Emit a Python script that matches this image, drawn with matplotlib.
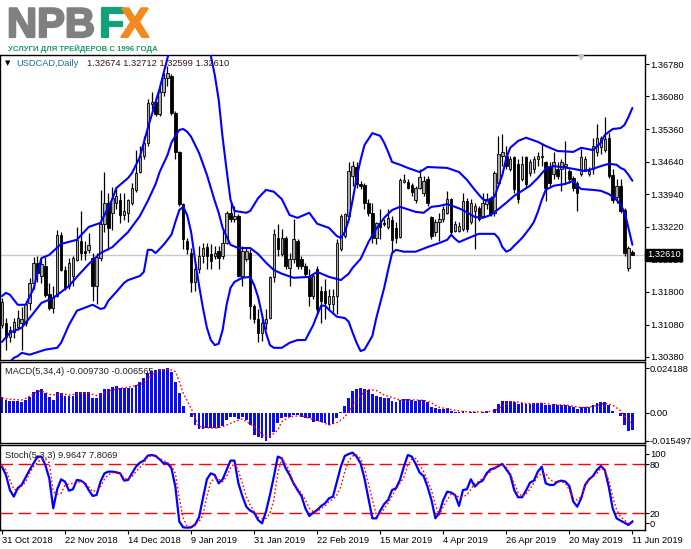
import matplotlib
matplotlib.use('Agg')
import matplotlib.pyplot as plt
import matplotlib.patheffects as pe
import numpy as np
from matplotlib.transforms import blended_transform_factory

# ---------------- data ----------------
symbol = 'USDCAD,Daily'
header_values = '1.32674 1.32712 1.32599 1.32610'
last_price = 1.32610

date_labels = ['31 Oct 2018', '22 Nov 2018', '14 Dec 2018', '9 Jan 2019', '31 Jan 2019',
               '22 Feb 2019', '15 Mar 2019', '4 Apr 2019', '26 Apr 2019', '20 May 2019', '11 Jun 2019']
date_label_bars = [0, 16, 32, 48, 64, 80, 96, 112, 128, 144, 160]

open_ = [1.3108, 1.3113, 1.3082, 1.3093, 1.3104, 1.3113, 1.3113, 1.3155, 1.3199, 1.3243,
         1.3215, 1.3237, 1.3175, 1.3145, 1.3171, 1.3305, 1.3228, 1.3193, 1.3215, 1.3250,
         1.3292, 1.3270, 1.3272, 1.3255, 1.3193, 1.3255, 1.3328, 1.3374, 1.3352, 1.3375,
         1.3381, 1.3348, 1.3352, 1.3374, 1.3403, 1.3443, 1.3476, 1.3505, 1.3590, 1.3594,
         1.3568, 1.3616, 1.3648, 1.3652, 1.3570, 1.3485, 1.3372, 1.3292, 1.3266, 1.3201,
         1.3230, 1.3259, 1.3279, 1.3262, 1.3259, 1.3270, 1.3259, 1.3288, 1.3353, 1.3339,
         1.3346, 1.3215, 1.3252, 1.3266, 1.3150, 1.3120, 1.3091, 1.3113, 1.3124, 1.3212,
         1.3299, 1.3262, 1.3299, 1.3233, 1.3252, 1.3292, 1.3252, 1.3237, 1.3212, 1.3171,
         1.3230, 1.3182, 1.3182, 1.3153, 1.3153, 1.3171, 1.3273, 1.3303, 1.3346, 1.3434,
         1.3452, 1.3416, 1.3414, 1.3374, 1.3352, 1.3298, 1.3330, 1.3330, 1.3323, 1.3337,
         1.3319, 1.3301, 1.3421, 1.3421, 1.3414, 1.3381, 1.3407, 1.3397, 1.3426, 1.3343,
         1.3310, 1.3332, 1.3339, 1.3353, 1.3383, 1.3314, 1.3314, 1.3317, 1.3379, 1.3332,
         1.3357, 1.3364, 1.3346, 1.3372, 1.3386, 1.3353, 1.3419, 1.3477, 1.3477, 1.3448,
         1.3474, 1.3459, 1.3426, 1.3474, 1.3441, 1.3448, 1.3470, 1.3474, 1.3463, 1.3455,
         1.3437, 1.3448, 1.3448, 1.3455, 1.3445, 1.3430, 1.3419, 1.3437, 1.3448, 1.3437,
         1.3448, 1.3485, 1.3496, 1.3490, 1.3517, 1.3436, 1.3388, 1.3412, 1.3359, 1.3233,
         1.32674]
high = [1.3166, 1.3124, 1.3106, 1.3123, 1.3141, 1.3148, 1.3160, 1.3210, 1.3257, 1.3259,
        1.3255, 1.3257, 1.3199, 1.3193, 1.3316, 1.3312, 1.3236, 1.3255, 1.3259, 1.3323,
        1.3357, 1.3292, 1.3308, 1.3265, 1.3265, 1.3403, 1.3443, 1.3396, 1.3410, 1.3404,
        1.3396, 1.3396, 1.3383, 1.3418, 1.3490, 1.3498, 1.3521, 1.3601, 1.3616, 1.3605,
        1.3630, 1.3659, 1.3674, 1.3656, 1.3576, 1.3488, 1.3375, 1.3299, 1.3277, 1.3244,
        1.3281, 1.3288, 1.3288, 1.3284, 1.3281, 1.3281, 1.3317, 1.3357, 1.3375, 1.3368,
        1.3350, 1.3281, 1.3277, 1.3273, 1.3153, 1.3142, 1.3128, 1.3142, 1.3215, 1.3317,
        1.3328, 1.3317, 1.3303, 1.3266, 1.3339, 1.3296, 1.3259, 1.3244, 1.3230, 1.3222,
        1.3237, 1.3193, 1.3208, 1.3186, 1.3186, 1.3296, 1.3350, 1.3353, 1.3463, 1.3466,
        1.3463, 1.3423, 1.3419, 1.3383, 1.3375, 1.3332, 1.3361, 1.3339, 1.3361, 1.3346,
        1.3332, 1.3430, 1.3437, 1.3426, 1.3419, 1.3412, 1.3448, 1.3434, 1.3434, 1.3346,
        1.3339, 1.3353, 1.3368, 1.3401, 1.3386, 1.3335, 1.3332, 1.3397, 1.3386, 1.3383,
        1.3375, 1.3368, 1.3397, 1.3397, 1.3390, 1.3445, 1.3521, 1.3525, 1.3499, 1.3477,
        1.3477, 1.3470, 1.3477, 1.3477, 1.3470, 1.3477, 1.3485, 1.3503, 1.3466, 1.3463,
        1.3485, 1.3463, 1.3470, 1.3510, 1.3448, 1.3434, 1.3423, 1.3492, 1.3477, 1.3452,
        1.3517, 1.3547, 1.3521, 1.3562, 1.3528, 1.3448, 1.3426, 1.3426, 1.3364, 1.3281,
        1.32712]
low = [1.3102, 1.3054, 1.3070, 1.3079, 1.3097, 1.3054, 1.3106, 1.3141, 1.3186, 1.3201,
       1.3199, 1.3170, 1.3141, 1.3135, 1.3170, 1.3225, 1.3185, 1.3186, 1.3193, 1.3247,
       1.3250, 1.3250, 1.3265, 1.3160, 1.3153, 1.3248, 1.3310, 1.3272, 1.3316, 1.3361,
       1.3330, 1.3337, 1.3332, 1.3370, 1.3399, 1.3439, 1.3470, 1.3498, 1.3579, 1.3565,
       1.3565, 1.3608, 1.3630, 1.3566, 1.3470, 1.3368, 1.3273, 1.3262, 1.3179, 1.3182,
       1.3222, 1.3244, 1.3230, 1.3230, 1.3252, 1.3230, 1.3252, 1.3284, 1.3332, 1.3332,
       1.3212, 1.3193, 1.3248, 1.3120, 1.3113, 1.3070, 1.3073, 1.3099, 1.3120, 1.3201,
       1.3259, 1.3259, 1.3230, 1.3193, 1.3244, 1.3230, 1.3230, 1.3212, 1.3150, 1.3164,
       1.3131, 1.3113, 1.3120, 1.3142, 1.3131, 1.3131, 1.3270, 1.3299, 1.3343, 1.3412,
       1.3408, 1.3404, 1.3361, 1.3346, 1.3288, 1.3284, 1.3296, 1.3324, 1.3317, 1.3266,
       1.3288, 1.3299, 1.3419, 1.3404, 1.3390, 1.3375, 1.3404, 1.3390, 1.3368, 1.3296,
       1.3303, 1.3292, 1.3332, 1.3350, 1.3306, 1.3310, 1.3310, 1.3314, 1.3310, 1.3328,
       1.3273, 1.3335, 1.3343, 1.3361, 1.3346, 1.3346, 1.3416, 1.3455, 1.3448, 1.3445,
       1.3397, 1.3375, 1.3423, 1.3408, 1.3434, 1.3441, 1.3455, 1.3455, 1.3379, 1.3412,
       1.3426, 1.3426, 1.3401, 1.3419, 1.3419, 1.3401, 1.3357, 1.3434, 1.3445, 1.3434,
       1.3437, 1.3477, 1.3481, 1.3485, 1.3430, 1.3375, 1.3375, 1.3353, 1.3259, 1.3226,
       1.32599]
close_ = [1.3159, 1.3082, 1.3097, 1.3115, 1.3123, 1.3120, 1.3153, 1.3199, 1.3243, 1.3222,
          1.3241, 1.3174, 1.3145, 1.3168, 1.3305, 1.3228, 1.3188, 1.3244, 1.3255, 1.3294,
          1.3266, 1.3266, 1.3283, 1.3193, 1.3257, 1.3328, 1.3375, 1.3319, 1.3385, 1.3390,
          1.3348, 1.3356, 1.3381, 1.3407, 1.3439, 1.3476, 1.3505, 1.3592, 1.3594, 1.3568,
          1.3616, 1.3648, 1.3658, 1.3570, 1.3485, 1.3372, 1.3296, 1.3273, 1.3201, 1.3230,
          1.3259, 1.3277, 1.3259, 1.3248, 1.3266, 1.3255, 1.3288, 1.3353, 1.3339, 1.3345,
          1.3215, 1.3270, 1.3270, 1.3150, 1.3120, 1.3091, 1.3113, 1.3120, 1.3212, 1.3306,
          1.3273, 1.3299, 1.3237, 1.3252, 1.3296, 1.3237, 1.3237, 1.3219, 1.3171, 1.3215,
          1.3142, 1.3160, 1.3157, 1.3171, 1.3171, 1.3288, 1.3346, 1.3350, 1.3445, 1.3455,
          1.3416, 1.3412, 1.3374, 1.3352, 1.3298, 1.3330, 1.3323, 1.3329, 1.3341, 1.3294,
          1.3298, 1.3425, 1.3425, 1.3407, 1.3399, 1.3407, 1.3432, 1.3423, 1.3375, 1.3303,
          1.3332, 1.3340, 1.3361, 1.3383, 1.3310, 1.3328, 1.3324, 1.3379, 1.3317, 1.3375,
          1.3368, 1.3339, 1.3375, 1.3383, 1.3350, 1.3441, 1.3481, 1.3485, 1.3455, 1.3470,
          1.3404, 1.3383, 1.3459, 1.3416, 1.3463, 1.3470, 1.3477, 1.3477, 1.3408, 1.3419,
          1.3463, 1.3434, 1.3463, 1.3459, 1.3426, 1.3408, 1.3397, 1.3474, 1.3470, 1.3445,
          1.3499, 1.3517, 1.3517, 1.3515, 1.3434, 1.3381, 1.3412, 1.3357, 1.3265, 1.3276,
          1.32610]

# Bollinger Bands (20, 2): (bar index, price)
bb_upper_bars = [0, 1, 2, 4, 6, 8, 10, 12, 15, 19, 22, 25, 28, 29, 32, 33, 35, 37, 40, 42,
                 44, 47, 50, 52, 53, 54, 55, 56, 57, 58, 59, 62, 63, 65, 67, 69, 71, 73, 75, 78,
                 80, 83, 85, 86, 87, 88, 89, 90, 91, 92, 94, 96, 97, 98, 99, 101, 103, 106, 108, 113,
                 116, 118, 120, 122, 123, 125, 126, 127, 128, 129, 131, 133, 136, 138, 141, 145, 147, 150, 152, 153,
                 155, 157, 158, 159, 160]
bb_upper = [1.3171, 1.3178, 1.3174, 1.3152, 1.3152, 1.3187, 1.3254, 1.3261, 1.3285, 1.3294,
            1.3322, 1.3331, 1.3383, 1.3407, 1.3429, 1.3440, 1.3475, 1.3538, 1.3624, 1.3691,
            1.3752, 1.3796, 1.3785, 1.3731, 1.3696, 1.3654, 1.3600, 1.3517, 1.3447, 1.3381,
            1.3357, 1.3353, 1.3357, 1.3385, 1.3403, 1.3399, 1.3383, 1.3348, 1.3342, 1.3353,
            1.3329, 1.3320, 1.3302, 1.3298, 1.3311, 1.3337, 1.3381, 1.3429, 1.3468, 1.3501,
            1.3527, 1.3521, 1.3506, 1.3486, 1.3464, 1.3458, 1.3451, 1.3442, 1.3453, 1.3451,
            1.3442, 1.3425, 1.3403, 1.3383, 1.3379, 1.3388, 1.3412, 1.3436, 1.3473, 1.3495,
            1.3510, 1.3517, 1.3508, 1.3499, 1.3488, 1.3486, 1.3495, 1.3490, 1.3506, 1.3523,
            1.3536, 1.3538, 1.3545, 1.3562, 1.3582]
bb_middle_bars = [0, 2, 5, 8, 10, 13, 17, 19, 22, 25, 28, 32, 35, 37, 39, 40, 42, 43, 44, 45,
                  46, 47, 48, 50, 52, 54, 55, 56, 58, 60, 63, 65, 67, 69, 71, 74, 78, 80, 83, 86,
                  88, 89, 91, 93, 95, 97, 99, 101, 105, 107, 109, 111, 113, 115, 117, 120, 122, 124, 126, 128,
                  130, 132, 134, 136, 138, 140, 142, 145, 148, 150, 152, 154, 156, 157, 158, 159, 160]
bb_middle = [1.3071, 1.3091, 1.3102, 1.3134, 1.3156, 1.3167, 1.3193, 1.3213, 1.3241, 1.3265,
             1.3278, 1.3311, 1.3346, 1.3379, 1.3416, 1.3442, 1.3479, 1.3506, 1.3521, 1.3534,
             1.3536, 1.3530, 1.3519, 1.3484, 1.3436, 1.3379, 1.3353, 1.3320, 1.3283, 1.3276,
             1.3276, 1.3263, 1.3244, 1.3228, 1.3220, 1.3211, 1.3213, 1.3224, 1.3213, 1.3206,
             1.3220, 1.3233, 1.3252, 1.3289, 1.3318, 1.3342, 1.3359, 1.3366, 1.3355, 1.3353,
             1.3366, 1.3368, 1.3372, 1.3366, 1.3359, 1.3344, 1.3342, 1.3348, 1.3361, 1.3375,
             1.3390, 1.3401, 1.3412, 1.3429, 1.3449, 1.3455, 1.3453, 1.3449, 1.3444, 1.3449,
             1.3455, 1.3460, 1.3458, 1.3451, 1.3447, 1.3436, 1.3423]
bb_lower_bars = [0, 2, 3, 4, 5, 7, 11, 14, 15, 17, 19, 23, 25, 26, 27, 29, 31, 32, 35, 36,
                 37, 38, 39, 41, 43, 44, 45, 46, 47, 48, 49, 50, 51, 52, 53, 54, 55, 56, 57, 58,
                 59, 61, 63, 64, 65, 66, 67, 68, 69, 71, 73, 75, 77, 79, 80, 81, 82, 83, 85, 87,
                 88, 89, 90, 91, 92, 93, 94, 95, 96, 97, 98, 99, 100, 102, 105, 108, 111, 113, 114, 115,
                 116, 119, 121, 125, 126, 127, 128, 129, 130, 132, 134, 135, 136, 137, 138, 140, 143, 145, 146, 147,
                 150, 152, 154, 155, 156, 157, 158, 159, 160]
bb_lower = [1.3019, 1.3027, 1.3036, 1.3040, 1.3047, 1.3043, 1.3054, 1.3058, 1.3069, 1.3108,
            1.3139, 1.3152, 1.3143, 1.3145, 1.3161, 1.3180, 1.3200, 1.3206, 1.3215, 1.3224,
            1.3272, 1.3272, 1.3265, 1.3283, 1.3305, 1.3333, 1.3359, 1.3366, 1.3348, 1.3311,
            1.3250, 1.3195, 1.3145, 1.3102, 1.3075, 1.3064, 1.3067, 1.3097, 1.3152, 1.3189,
            1.3202, 1.3211, 1.3213, 1.3195, 1.3169, 1.3130, 1.3091, 1.3064, 1.3058, 1.3058,
            1.3069, 1.3075, 1.3075, 1.3108, 1.3130, 1.3150, 1.3150, 1.3141, 1.3126, 1.3123,
            1.3115, 1.3091, 1.3069, 1.3051, 1.3054, 1.3069, 1.3084, 1.3123, 1.3156, 1.3189,
            1.3228, 1.3265, 1.3272, 1.3268, 1.3268, 1.3278, 1.3287, 1.3294, 1.3305, 1.3296,
            1.3289, 1.3300, 1.3307, 1.3307, 1.3298, 1.3278, 1.3268, 1.3272, 1.3281, 1.3298,
            1.3320, 1.3333, 1.3355, 1.3381, 1.3403, 1.3412, 1.3416, 1.3423, 1.3412, 1.3405,
            1.3403, 1.3401, 1.3394, 1.3388, 1.3381, 1.3370, 1.3355, 1.3320, 1.3283]

# MACD (5,34,4)
macd_hist = [0.0086, 0.0068, 0.0063, 0.0063, 0.0063, 0.0059, 0.0068, 0.0086, 0.0110, 0.0123,
             0.0128, 0.0105, 0.0086, 0.0068, 0.0110, 0.0105, 0.0092, 0.0092, 0.0092, 0.0110,
             0.0114, 0.0110, 0.0114, 0.0081, 0.0081, 0.0105, 0.0128, 0.0128, 0.0137, 0.0144,
             0.0132, 0.0135, 0.0132, 0.0132, 0.0150, 0.0168, 0.0186, 0.0214, 0.0226, 0.0232,
             0.0237, 0.0237, 0.024188, 0.0223, 0.0168, 0.0105, 0.0037, -0.0003, -0.0023, -0.0068,
             -0.0090, -0.0090, -0.0086, -0.0086, -0.0086, -0.0083, -0.0072, -0.0041, -0.0023, -0.0023,
             -0.0035, -0.0023, -0.0041, -0.0068, -0.0123, -0.0132, -0.0137, -0.015497, -0.0141, -0.0105,
             -0.0059, -0.0032, -0.0023, -0.0023, -0.0014, -0.0014, -0.0023, -0.0028, -0.0032, -0.0050,
             -0.0046, -0.0050, -0.0059, -0.0068, -0.0060, -0.0030, 0.0005, 0.0035, 0.0080, 0.0115,
             0.0130, 0.0135, 0.0130, 0.0120, 0.0100, 0.0090, 0.0085, 0.0080, 0.0080, 0.0065,
             0.0055, 0.0070, 0.0075, 0.0072, 0.0068, 0.0065, 0.0068, 0.0068, 0.0055, 0.0030,
             0.0022, 0.0018, 0.0020, 0.0025, 0.0010, 0.0005, 0.0002, 0.0010, 0.0000, 0.0005,
             0.0005, 0.0000, 0.0005, 0.0008, 0.0000, 0.0020, 0.0045, 0.0060, 0.0062, 0.0065,
             0.0055, 0.0045, 0.0050, 0.0045, 0.0048, 0.0050, 0.0052, 0.0052, 0.0042, 0.0040,
             0.0045, 0.0040, 0.0042, 0.0040, 0.0035, 0.0028, 0.0020, 0.0030, 0.0032, 0.0030,
             0.0040, 0.0050, 0.0055, 0.0055, 0.0040, 0.0010, 0.0000, -0.0020, -0.0068, -0.0100,
             -0.009730]
macd_signal_bars = [0, 1, 5, 6, 9, 10, 12, 14, 16, 17, 20, 22, 24, 26, 28, 31, 33, 36, 38, 40,
                    43, 44, 45, 46, 48, 49, 50, 54, 56, 59, 61, 64, 66, 68, 70, 71, 73, 76, 78, 81,
                    83, 85, 87, 89, 91, 93, 95, 97, 99, 101, 103, 105, 107, 109, 111, 113, 115, 117, 119, 121,
                    123, 125, 127, 129, 131, 133, 135, 137, 139, 141, 143, 145, 147, 149, 151, 153, 155, 157, 159, 160]
macd_signal = [0.0081, 0.0074, 0.0068, 0.0077, 0.0114, 0.0117, 0.0099, 0.0095, 0.0099, 0.0095,
               0.0105, 0.0105, 0.0092, 0.0105, 0.0123, 0.0135, 0.0141, 0.0159, 0.0204, 0.0232,
               0.0232, 0.0223, 0.0168, 0.0105, 0.0023, -0.0032, -0.0077, -0.0086, -0.0077, -0.0050,
               -0.0035, -0.0077, -0.0123, -0.0132, -0.0095, -0.0050, -0.0023, -0.0017, -0.0032, -0.0050,
               -0.0068, -0.0055, -0.0025, 0.0035, 0.0095, 0.0125, 0.0120, 0.0095, 0.0082, 0.0068,
               0.0070, 0.0068, 0.0067, 0.0052, 0.0028, 0.0020, 0.0012, 0.0006, 0.0004, 0.0003,
               0.0004, 0.0008, 0.0035, 0.0060, 0.0057, 0.0048, 0.0048, 0.0051, 0.0045, 0.0042,
               0.0041, 0.0034, 0.0027, 0.0030, 0.0038, 0.0050, 0.0040, 0.0010, -0.0045, -0.006565]
macd_ticks = [0.024188, 0.0, -0.015497]
macd_tick_labels = ['0.024188', '0.00', '-0.015497']

# Stochastic (5,3,3)
stoch_main = [77.1, 66.9, 48.5, 40.4, 51.0, 54.7, 64.0, 73.0, 81.2, 89.4,
              89.4, 79.1, 62.8, 26.1, 49.4, 61.6, 58.7, 47.7, 49.4, 60.8,
              60.0, 56.7, 48.5, 41.2, 42.4, 58.7, 68.9, 71.0, 71.0, 70.2,
              68.9, 60.0, 60.8, 68.9, 77.1, 82.0, 84.5, 90.6, 91.4, 90.2,
              86.1, 81.2, 81.2, 75.1, 52.6, 9.8, 2.8, 2.4, 2.8, 6.1,
              15.1, 38.3, 61.6, 68.9, 66.9, 56.7, 61.6, 73.0, 84.5, 84.5,
              56.7, 41.2, 28.1, 23.2, 20.8, 11.8, 7.7, 22.0, 42.4, 64.9,
              89.4, 87.3, 75.1, 66.9, 56.7, 48.5, 41.2, 26.1, 16.7, 20.8,
              24.0, 29.0, 32.2, 38.3, 40.4, 58.7, 77.1, 90.2, 92.6, 94.2,
              89.4, 81.2, 62.8, 38.3, 13.8, 13.8, 23.2, 31.4, 36.3, 48.5,
              50.6, 60.8, 77.1, 91.4, 89.4, 80.4, 69.8, 65.7, 52.6, 36.3,
              13.8, 20.8, 36.3, 46.5, 45.3, 42.4, 29.0, 48.5, 49.4, 61.6,
              52.6, 57.5, 60.0, 68.9, 73.8, 75.1, 77.9, 80.4, 73.8, 66.9,
              48.5, 39.6, 39.6, 47.7, 57.5, 60.0, 71.0, 77.1, 56.7, 54.7,
              54.7, 58.7, 60.0, 58.7, 53.4, 34.3, 28.1, 38.3, 54.7, 61.6,
              65.7, 73.0, 77.9, 73.0, 52.6, 26.1, 13.8, 11.0, 8.5, 5.7,
              9.9647]
stoch_signal = [77.9, 73.0, 60.8, 49.4, 48.5, 53.4, 58.3, 68.9, 77.1, 82.0,
                86.5, 86.1, 82.0, 46.5, 43.2, 44.5, 54.3, 55.9, 56.7, 58.3,
                58.3, 57.5, 52.6, 46.5, 48.5, 52.6, 61.6, 67.3, 69.8, 68.9,
                68.9, 62.8, 61.6, 64.9, 71.0, 76.3, 81.2, 89.4, 90.2, 89.4,
                87.3, 84.5, 82.0, 77.9, 68.9, 38.3, 13.8, 4.5, 3.6, 6.9,
                9.8, 17.9, 40.4, 58.7, 62.8, 61.6, 58.7, 64.9, 75.1, 81.2,
                72.2, 56.7, 40.4, 30.2, 22.0, 15.1, 13.4, 13.8, 20.0, 36.3,
                68.9, 87.3, 81.2, 71.0, 57.5, 50.6, 44.5, 36.3, 26.1, 22.0,
                22.0, 26.1, 29.0, 34.3, 37.1, 42.4, 52.6, 71.0, 84.5, 90.2,
                91.4, 87.3, 75.1, 56.7, 37.1, 17.9, 17.9, 26.1, 32.2, 41.2,
                49.4, 56.7, 64.0, 79.1, 86.1, 87.3, 79.1, 71.0, 60.0, 48.5,
                30.2, 17.9, 28.1, 36.3, 43.6, 42.4, 39.6, 40.4, 42.4, 49.4,
                56.7, 58.7, 62.8, 66.9, 71.0, 75.1, 77.9, 79.1, 76.3, 68.9,
                56.7, 45.3, 40.4, 43.6, 49.4, 57.5, 64.9, 68.9, 68.9, 61.6,
                58.7, 58.7, 58.7, 56.7, 48.5, 38.3, 36.3, 40.4, 52.6, 60.8,
                64.9, 68.9, 75.1, 73.0, 60.8, 40.4, 24.0, 15.9, 11.8, 7.7,
                7.8069]
stoch_levels = [20, 80]
stoch_tick_values = [8.1, 20, 80, 92.6]
stoch_tick_labels = ['0', '20', '80', '100']

price_ticks = [1.36780, 1.36080, 1.35360, 1.34640, 1.33940, 1.33220, 1.32520, 1.31800, 1.31080, 1.30380]

# ---------------- figure ----------------
W, H = 691, 549
fig = plt.figure(figsize=(W / 100, H / 100), dpi=100)
fig.patch.set_facecolor('white')
FONT = ['Liberation Sans', 'DejaVu Sans']
FS = 6.7
plt.rcParams['font.family'] = FONT


def rect(l, t, r, b):
    return [l / W, 1 - b / H, (r - l) / W, (b - t) / H]


ax_main = fig.add_axes(rect(0, 55, 645, 360))
ax_macd = fig.add_axes(rect(0, 362, 645, 443))
ax_sto = fig.add_axes(rect(0, 445, 645, 529.5))

XL = (-0.51, 163.2)
for ax in (ax_main, ax_macd, ax_sto):
    ax.set_xlim(*XL)
    ax.set_facecolor('white')
    for s in ax.spines.values():
        s.set_color('black')
        s.set_linewidth(1.0)
    ax.yaxis.tick_right()
    ax.tick_params(axis='y', which='both', right=True, left=False, labelright=True, labelleft=False,
                   length=3, width=0.8, pad=0.6, labelsize=FS, direction='out', colors='black')
    ax.tick_params(axis='x', bottom=False, labelbottom=False)

# --- main price panel ---
x = np.arange(len(close_))
o = np.array(open_); h = np.array(high); l = np.array(low); c = np.array(close_)
ax_main.set_ylim(1.30314, 1.36977)
ax_main.axhline(last_price, color='#c8c8c8', lw=1.0, zorder=0.5)
ax_main.vlines(x, l, h, color='black', lw=0.9, zorder=1)
bull = c >= o
minh = (1.36977 - 1.30314) / 305 * 0.8
body_b = np.minimum(o, c)
body_h = np.maximum(np.abs(c - o), minh)
ax_main.bar(x[bull], body_h[bull], bottom=body_b[bull], width=0.62, color='#a8a8a8',
            edgecolor='black', linewidth=0.6, zorder=2)
ax_main.bar(x[~bull], body_h[~bull], bottom=body_b[~bull], width=0.62, color='black',
            edgecolor='black', linewidth=0.6, zorder=2)
for bars, vals in ((bb_upper_bars, bb_upper), (bb_middle_bars, bb_middle), (bb_lower_bars, bb_lower)):
    ax_main.plot(bars, vals, color='#0000ff', lw=1.5, zorder=3, solid_capstyle='round')
ax_main.set_yticks(price_ticks)
ax_main.set_yticklabels(['%.5f' % v for v in price_ticks])
trm = blended_transform_factory(ax_main.transAxes, ax_main.transData)
ax_main.text(1.0 + 2 / 645, last_price, '%.5f' % last_price, transform=trm, ha='left', va='center',
             color='white', fontsize=FS, zorder=10, clip_on=False,
             bbox=dict(boxstyle='square,pad=0.18', fc='black', ec='black'))

# --- MACD panel ---
ax_macd.set_ylim(-0.01662, 0.02752)
ax_macd.bar(x, macd_hist, width=0.72, color='#0c0cf0', linewidth=0, zorder=2)
ax_macd.plot(macd_signal_bars, macd_signal, color='#ff0000', lw=1.0, ls=(0, (1.2, 1.6)), zorder=3)
ax_macd.set_yticks(macd_ticks)
ax_macd.set_yticklabels(macd_tick_labels)

# --- Stochastic panel ---
ax_sto.set_ylim(0.16, 103.6)
for lv in stoch_levels:
    ax_sto.axhline(lv, color='#ff0000', lw=1.0, ls=(0, (9, 4)), zorder=1)
ax_sto.plot(x, stoch_main, color='#0000ff', lw=1.6, zorder=3)
ax_sto.plot(x, stoch_signal, color='#ff0000', lw=1.0, ls=(0, (1.2, 1.6)), zorder=3)
ax_sto.set_yticks(stoch_tick_values)
ax_sto.set_yticklabels(stoch_tick_labels)
ax_sto.tick_params(axis='x', bottom=True, labelbottom=True, length=3, width=0.8, pad=2,
                   labelsize=FS, direction='out')
ax_sto.set_xticks(date_label_bars)
ax_sto.set_xticklabels(date_labels)
for t in ax_sto.get_xticklabels():
    t.set_ha('left')

# --- labels inside panels ---
def fx(px):
    return px / W


def fy(py):
    return 1 - py / H


fig.text(fx(5), fy(63.5), '\u25bc', fontsize=5, color='black', va='center', ha='left',
         family='DejaVu Sans')
fig.text(fx(16), fy(63.5), symbol, fontsize=FS, color='#1a6fa0', va='center', ha='left')
fig.text(fx(87), fy(63.5), header_values, fontsize=FS, color='#3a1212', va='center', ha='left')
fig.text(fx(5), fy(371), 'MACD(5,34,4) -0.009730 -0.006565', fontsize=FS, color='#202020',
         va='center', ha='left')
fig.text(fx(5), fy(455), 'Stoch(5,3,3) 9.9647 7.8069', fontsize=FS, color='#202020',
         va='center', ha='left')
# chart-shift marker at the top border
fig.text(fx(581), fy(58), '\u25bc', fontsize=6, color='#c0c0c0', va='center', ha='center',
         family='DejaVu Sans')

# --- logo ---
fig.text(fx(7), fy(37), 'NPB', fontsize=30, fontweight='bold', color='#808080',
         va='baseline', ha='left', path_effects=[pe.withStroke(linewidth=1.6, foreground='#808080')])
fig.text(fx(99), fy(37), 'F', fontsize=30, fontweight='bold', color='#14a07a',
         va='baseline', ha='left', path_effects=[pe.withStroke(linewidth=1.6, foreground='#14a07a')])
fig.text(fx(121), fy(37), 'X', fontsize=30, fontweight='bold', color='#f28a1f',
         va='baseline', ha='left', path_effects=[pe.withStroke(linewidth=1.6, foreground='#f28a1f')])
sub = fig.text(fx(8), fy(51), 'УСЛУГИ ДЛЯ ТРЕЙДЕРОВ С 1996 ГОДА', fontsize=7, fontweight='bold',
               color='#1a9a5e', va='baseline', ha='left',
               family=['Liberation Sans Narrow', 'Liberation Sans', 'DejaVu Sans'])
fig.canvas.draw()
bb = sub.get_window_extent(renderer=fig.canvas.get_renderer())
sub.set_fontsize(7 * 150.0 / bb.width)

fig.savefig('out.png', dpi=100, facecolor='white')
